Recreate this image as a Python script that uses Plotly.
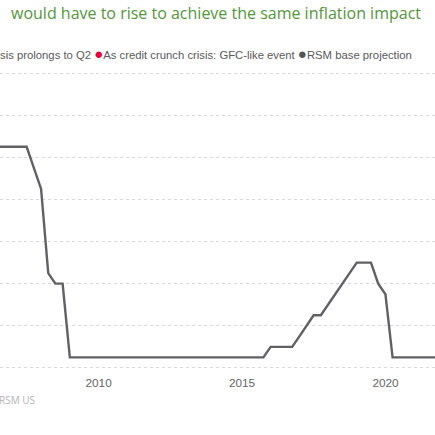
import pandas as pd
import plotly.graph_objects as go

# quarter-end policy rate (upper bound), RSM base projection, starting 2006-Q2
rate = [
    5.25, 5.25, 5.25,                    # 2006 Q2-Q4
    5.25, 5.25, 4.75, 4.25,              # 2007
    2.25, 2.00, 2.00, 0.25,              # 2008
    0.25, 0.25, 0.25, 0.25,              # 2009
    0.25, 0.25, 0.25, 0.25,              # 2010
    0.25, 0.25, 0.25, 0.25,              # 2011
    0.25, 0.25, 0.25, 0.25,              # 2012
    0.25, 0.25, 0.25, 0.25,              # 2013
    0.25, 0.25, 0.25, 0.25,              # 2014
    0.25, 0.25, 0.25, 0.50,              # 2015
    0.50, 0.50, 0.50, 0.75,              # 2016
    1.00, 1.25, 1.25, 1.50,              # 2017
    1.75, 2.00, 2.25, 2.50,              # 2018
    2.50, 2.50, 2.00, 1.75,              # 2019
    0.25, 0.25, 0.25, 0.25,              # 2020
    0.25, 0.25, 0.25,                    # 2021 Q1-Q3
]
dates = pd.date_range("2006-06-30", periods=len(rate), freq="QE")

tick_years = ["2010-01-01", "2015-01-01", "2020-01-01"]
tick_labels = ["2010", "2015", "2020"]

title_text = "would have to rise to achieve the same inflation impact"
legend_text = ("sis prolongs to Q2 "
               "<span style='color:#e6003c;font-size:15px'>●</span>"
               "As credit crunch crisis: GFC-like event "
               "<span style='color:#55555a;font-size:15px'>●</span>RSM base projection")
source_text = "RSM US"

fig = go.Figure()
fig.add_trace(go.Scatter(x=dates, y=rate, mode="lines",
                         line=dict(color="#616066", width=2.4),
                         name="RSM base projection", showlegend=False))

fig.update_xaxes(range=["2006-07-26", "2021-09-22"],
                 tickvals=tick_years, ticktext=tick_labels,
                 showgrid=False, zeroline=False, showline=False,
                 ticks="", ticklabelstandoff=4,
                 tickfont=dict(family="Liberation Sans", size=11.8, color="#666666"))
fig.update_yaxes(range=[-0.05, 7.05], dtick=1, showticklabels=False,
                 showgrid=True, gridcolor="#d9d9d9", griddash="dot", gridwidth=1,
                 zeroline=False, showline=False)

# title, legend and source (chart is cropped at both sides)
fig.add_annotation(text=title_text, xref="paper", yref="paper", x=0.02, y=1.195,
                   xanchor="left", yanchor="middle", showarrow=False,
                   font=dict(family="Open Sans", size=16, color="#53963a"))
fig.add_annotation(text=legend_text, xref="paper", yref="paper", x=-0.004, y=1.06,
                   xanchor="left", yanchor="middle", showarrow=False,
                   font=dict(family="Liberation Sans", size=11.3, color="#595959"))
fig.add_annotation(text=source_text, xref="paper", yref="paper", x=-0.006, y=-0.1,
                   xanchor="left", yanchor="middle", showarrow=False,
                   font=dict(family="Open Sans", size=10, color="#b3b3b3"))

fig.update_layout(width=435, height=435,
                  margin=dict(l=0, r=0, t=71, b=65),
                  plot_bgcolor="white", paper_bgcolor="white")

fig.write_html("out.html", config={"displayModeBar": False},
               post_script="document.body.style.margin='0';")
